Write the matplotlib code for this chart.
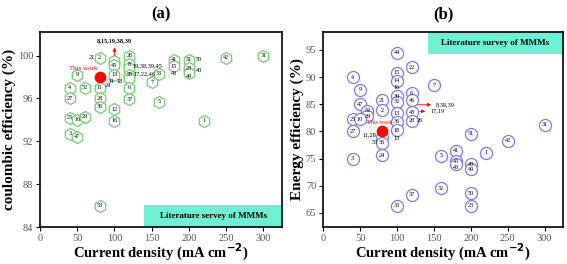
import matplotlib
matplotlib.use("Agg")
from matplotlib import pyplot as plt
from matplotlib.patches import Rectangle

plt.rcParams["font.family"] = ["Liberation Serif", "DejaVu Serif"]

# panel (a): coulombic efficiency
ce_x = [80, 50, 40, 60, 40, 80, 80, 80, 40, 50, 60, 40, 50, 80,
        100, 100, 100, 100, 100,
        120, 120, 120, 120, 120, 120, 120,
        150, 160, 160, 180, 180, 200, 200, 200, 220, 250, 300]
ce_y = [99.8, 98.2, 97.0, 97.0, 96.0, 97.0, 96.0, 95.2, 94.2, 94.0, 94.3, 92.7, 92.4, 86.0,
        99.5, 99.1, 98.2, 95.0, 93.9,
        100.0, 99.2, 98.8, 98.2, 97.9, 97.0, 95.9,
        97.5, 98.3, 95.7, 99.6, 99.0, 99.6, 98.8, 98.4, 93.9, 99.8, 100.0]
ce_lab = ["2", "9", "4", "52", "27", "11", "28", "36", "25", "10", "29", "3", "47", "53",
          "", "45", "13", "12", "16",
          "26", "8", "", "20", "", "6", "37",
          "7", "33", "5", "41", "15", "51", "23", "", "1", "42", "31"]
ce_notes = [(70, 99.8, "21"), (91, 97.2, "24"), (95, 97.6, "34"), (107, 97.6, "18"),
            (124, 99.0, "19,38,39,45"), (126, 98.3, "17,22,46"),
            (180, 98.3, "43"), (200, 98.0, "49"), (213, 99.6, "50"), (213, 98.6, "40")]
ce_work = (80, 98.0)

# panel (b): energy efficiency
ee_x = [100, 40, 50, 100, 100, 100, 100, 120, 150, 120, 120, 120, 120,
        80, 80, 50, 60, 60, 40, 50, 40, 100, 100, 100, 80, 80, 80, 40,
        200, 300, 250, 220, 160, 180, 180, 180, 200, 200, 160, 120, 200, 100, 200]
ee_y = [94.5, 90.0, 87.7, 90.8, 89.3, 86.5, 85.5, 91.8, 88.5, 87.0, 85.7, 83.5, 82.0,
        85.7, 83.9, 85.0, 83.8, 82.8, 82.2, 82.2, 80.0, 83.3, 81.8, 80.2, 79.0, 77.9, 75.6, 75.0,
        79.6, 81.2, 78.3, 76.1, 75.5, 76.4, 74.5, 74.0, 74.0, 73.0, 69.5, 68.3, 68.6, 66.3, 66.3]
ee_lab = ["44", "4", "9", "15", "14", "30", "32", "22", "7", "6", "46", "48", "20",
          "21", "2", "47", "52", "29", "25", "10", "27", "13", "36", "18", "", "36", "24", "3",
          "51", "31", "42", "1", "5", "41", "45", "", "40", "49", "32", "37", "50", "33", "23"]
ee_notes = [(100, 88.0, "16"), (131, 82.0, "26"), (100, 78.7, "13"),
            (62, 79.3, "11,28"), (70, 77.9, "53"), (180, 73.4, "43")]
ee_work = (80, 80.0)


def style_axes(ax, ylabel):
    ax.set_xlim(0, 325)
    ax.set_xticks([0, 50, 100, 150, 200, 250, 300])
    ax.tick_params(labelsize=7.5, labelcolor="#555555", length=3, width=0.8, pad=2)
    for s in ax.spines.values():
        s.set_linewidth(1.2)
    ax.set_xlabel("Current density (mA cm$^{\\mathbf{-2}}$)", fontsize=10.5,
                  fontweight="bold", labelpad=-1)
    ax.set_ylabel(ylabel, fontsize=11, fontweight="bold", labelpad=1)


def draw_points(ax, xs, ys, labels, marker, color):
    ax.scatter(xs, ys, marker=marker, s=75, facecolors="white",
               edgecolors=color, linewidths=0.9, zorder=3)
    for x, y, t in zip(xs, ys, labels):
        if t:
            ax.text(x, y, t, fontsize=4.5, ha="center", va="center", zorder=4)


fig = plt.figure(figsize=(5.67, 2.64), dpi=100)
ax1 = fig.add_axes([0.0705, 0.140, 0.427, 0.739])
ax2 = fig.add_axes([0.570, 0.140, 0.423, 0.739])

# (a)
draw_points(ax1, ce_x, ce_y, ce_lab, "h", "#6fcf6f")
for x, y, t in ce_notes:
    ax1.text(x, y, t, fontsize=4.5, ha="center" if len(t) < 4 else "left",
             va="center", zorder=4)
ax1.scatter([ce_work[0]], [ce_work[1]], s=55, color="red", zorder=5)
ax1.text(ce_work[0] - 2, ce_work[1] + 0.8, "This work", color="red",
         fontsize=5, ha="right", va="center")
ax1.annotate("", xy=(100, 101.0), xytext=(100, 99.7),
             arrowprops=dict(arrowstyle="-|>", color="red", lw=0.6, mutation_scale=5))
ax1.text(100, 101.4, "8,15,19,38,39", fontsize=4.5, ha="center", va="center",
         fontweight="bold")
ax1.set_ylim(84, 102.2)
ax1.set_yticks([84, 88, 92, 96, 100])
style_axes(ax1, "coulombic efficiency (%)")
ax1.add_patch(Rectangle((0.43, 0.0), 0.57, 0.113, transform=ax1.transAxes,
                        facecolor="#6ff0d4", edgecolor="none", zorder=1))
ax1.text(0.715, 0.056, "Literature servey of MMMs", transform=ax1.transAxes,
         fontsize=6.5, fontweight="bold", ha="center", va="center", zorder=2)
ax1.set_title("(a)", fontsize=12, fontweight="bold", pad=10)

# (b)
draw_points(ax2, ee_x, ee_y, ee_lab, "o", "#7b7bee")
for x, y, t in ee_notes:
    ax2.text(x, y, t, fontsize=4.5, ha="center", va="center", zorder=4)
ax2.scatter([ee_work[0]], [ee_work[1]], s=55, color="red", zorder=5)
ax2.text(ee_work[0] - 4, ee_work[1] + 1.6, "This work", color="red",
         fontsize=4.5, ha="center", va="center")
ax2.annotate("", xy=(150, 84.9), xytext=(124, 84.9),
             arrowprops=dict(arrowstyle="-|>", color="red", lw=0.6, mutation_scale=5))
ax2.text(152, 84.9, "8,38,39", fontsize=4.5, ha="left", va="center")
ax2.annotate("", xy=(142, 83.7), xytext=(127, 83.7),
             arrowprops=dict(arrowstyle="-|>", color="red", lw=0.6, mutation_scale=5))
ax2.text(145, 83.7, "17,19", fontsize=4.5, ha="left", va="center")
ax2.set_ylim(62.4, 98.3)
ax2.set_yticks([65, 70, 75, 80, 85, 90, 95])
style_axes(ax2, "Energy efficiency (%)")
ax2.add_patch(Rectangle((0.437, 0.887), 0.563, 0.113, transform=ax2.transAxes,
                        facecolor="#6ff0d4", edgecolor="none", zorder=1))
ax2.text(0.718, 0.943, "Literature survey of MMMs", transform=ax2.transAxes,
         fontsize=6.5, fontweight="bold", ha="center", va="center", zorder=2)
ax2.set_title("(b)", fontsize=12, fontweight="bold", pad=10)

fig.savefig("out.png", dpi=100)
